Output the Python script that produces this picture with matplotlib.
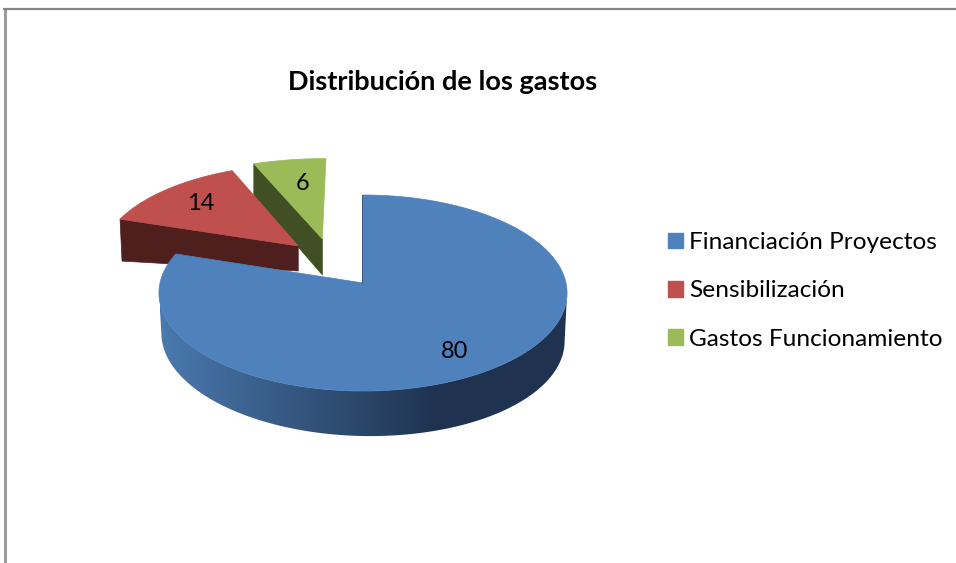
import numpy as np
import matplotlib
matplotlib.use('Agg')
import matplotlib.pyplot as plt
from matplotlib.patches import Patch, Polygon, Rectangle
from matplotlib.colors import LinearSegmentedColormap

# Datos del gráfico
titulo = 'Distribución de los gastos'
categorias = ['Financiación Proyectos', 'Sensibilización', 'Gastos Funcionamiento']
valores = [80, 14, 6]

colores = ['#4F81BD', '#C0504D', '#9BBB59']
oscuros = ['#1F3350', '#4F1F1D', '#404F24']

# Geometría de la vista 3D (en píxeles de la imagen)
CX, CY = 363, 283
RX, RY = 203, 97
K = 0.102
# desplazamiento de cada porción, en radios
explosion = [(0, 0), (-0.332, 0.397), (-0.21, 0.476)]
# ancho relativo de cada porción
ancho = [1, 1, 1.1]
# corrección de la perspectiva en el ángulo final
ajuste_angulo = [0, -1.9, 0]
# profundidad en el borde y en el vértice
profundidad = [(42, 42), (42, 25), (32, 36)]
pos_etiquetas = [(455, 351), (201, 203), (303, 183)]

plt.rcParams['font.family'] = ['Lato', 'DejaVu Sans']

fig = plt.figure(figsize=(9.56, 5.63), dpi=100)
ax = fig.add_axes([0, 0, 1, 1])
ax.axis('off')


def proyectar(x, y):
    w = 1 + K * y
    return CX + RX * x / w, CY - RY * y / w


def borde(a0, a1, sx, sy, esc=1, n=200):
    # ángulos en grados, en sentido horario desde las 12
    t = np.radians(np.linspace(a0, a1, n))
    return proyectar(sx + esc * np.sin(t), sy + np.cos(t))


# marco gris, cortado por abajo y por la derecha
ax.plot([5, 5], [563, 8], color='#9C9C9C', lw=2.2, solid_capstyle='butt')
ax.plot([3.5, 956], [9, 9], color='#868686', lw=1.6, solid_capstyle='butt')

acum = np.cumsum([0] + valores) / sum(valores) * 360

# se dibuja de atrás hacia delante: verde, rojo, azul
for i in [2, 1, 0]:
    a0, a1 = acum[i], acum[i + 1] + ajuste_angulo[i]
    sx, sy = explosion[i]
    xb, yb = borde(a0, a1, sx, sy, ancho[i])
    xc, yc = proyectar(sx, sy)
    d_borde, d_vertice = profundidad[i]

    if i == 0:
        # lateral con degradado horizontal, recortado entre los extremos del cilindro
        t = np.radians(np.linspace(96, 264, 300))
        xs, ys = proyectar(np.sin(t), np.cos(t))
        prof = 44 + 4 * np.sin(t) + np.maximum(0, -np.cos(t))
        xf = xs + (CX - xs) * 0.012
        banda = Polygon(np.column_stack([np.r_[xs, xf[::-1]], np.r_[ys, (ys + prof)[::-1]]]),
                        closed=True, transform=ax.transData, fc='none', ec='none')
        ax.add_patch(banda)
        cmap = LinearSegmentedColormap.from_list('lateral', [(0, '#4A79AE'), (0.68, oscuros[0]), (1, oscuros[0])])
        grad = np.linspace(0, 1, 256).reshape(1, -1)
        im = ax.imshow(grad, cmap=cmap, extent=(160, 568, 440, 250), aspect='auto', zorder=1.5)
        im.set_clip_path(banda)
    else:
        # cara del corte que mira al frente
        px, py = xb[0], yb[0]
        ax.add_patch(Polygon([(px, py), (xc, yc), (xc, yc + d_vertice), (px + (2 if i == 1 else 0), py + d_borde)],
                             closed=True, fc=oscuros[i], ec=oscuros[i], lw=0.5))

    top = np.column_stack([np.r_[xc, xb], np.r_[yc, yb]])
    ax.add_patch(Polygon(top, closed=True, fc=colores[i], ec=colores[i], lw=0.5,
                         zorder=2 if i == 0 else 1))

# canto del corte del sector azul, casi de perfil
xr, yr = proyectar(0, 1)
ax.plot([xr - 1, CX - 1], [yr, CY], color='#34557F', lw=0.7, zorder=2.1)

ax.set_xlim(0, 956)
ax.set_ylim(563, 0)

for v, (x, y) in zip(valores, pos_etiquetas):
    ax.text(x, y, str(v), ha='center', va='center', fontsize=17, color='black', zorder=3)

# el título queda cortado por abajo, como en la captura
t_titulo = ax.text(442.5, 90, titulo, ha='center', va='baseline', fontsize=19.5,
                   fontweight='bold', color='black')
t_titulo.set_clip_path(Rectangle((0, 0), 956, 92, transform=ax.transData))

handles = [Patch(fc=c, ec=c) for c in colores]
ax.legend(handles, categorias, loc='upper left', bbox_to_anchor=(668, 232),
          bbox_transform=ax.transData, frameon=False, fontsize=17.6, labelcolor='black',
          handlelength=0.6, handleheight=0.6, handletextpad=0.27, labelspacing=1.12,
          borderaxespad=0, borderpad=0)

fig.savefig('out.png', dpi=100)
